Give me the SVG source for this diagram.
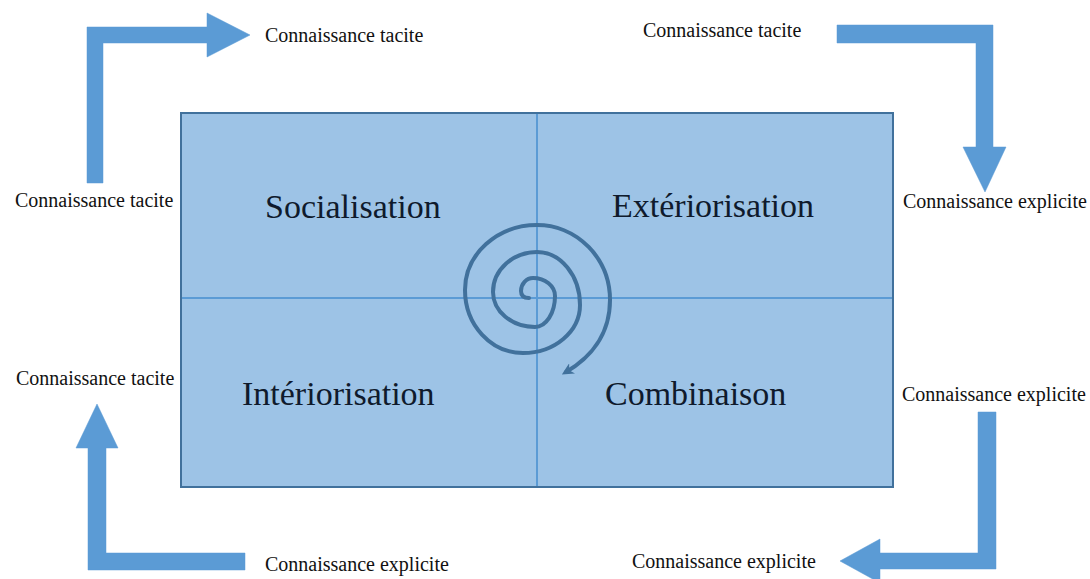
<svg xmlns="http://www.w3.org/2000/svg" width="1090" height="579" viewBox="0 0 1090 579">
  <style>
    .lbl { font-family: "Liberation Serif", "Times New Roman", serif; font-size: 20px; fill: #111; }
    .big { font-family: "Liberation Serif", "Times New Roman", serif; font-size: 34px; fill: #0f1a2c; }
    .arrow { fill: #5b9bd5; stroke: #5b9bd5; stroke-width: 0.5; }
    .divider { stroke: #5b9bd5; stroke-width: 2; fill: none; }
    .spiral { stroke: #41719c; stroke-width: 4; fill: none; stroke-linecap: round; }
  </style>
  <defs>
    <marker id="spiralHead" viewBox="0 0 10 10" refX="6" refY="5" markerWidth="3" markerHeight="3" orient="auto" markerUnits="strokeWidth">
      <path d="M0,0 L10,5 L0,10 L3,5 Z" fill="#41719c"/>
    </marker>
  </defs>
  <rect width="1090" height="579" fill="#ffffff"/>

  <g id="matrix">
    <rect x="181" y="113" width="712" height="374" fill="#9dc3e6" stroke="#41719c" stroke-width="2"/>
    <line class="divider" x1="537" y1="114" x2="537" y2="486"/>
    <line class="divider" x1="182" y1="298" x2="892" y2="298"/>
  </g>

  <g id="socialisation"><text class="big" x="265" y="218">Socialisation</text></g>
  <g id="exteriorisation"><text class="big" x="612" y="217">Extériorisation</text></g>
  <g id="interiorisation"><text class="big" x="242" y="405">Intériorisation</text></g>
  <g id="combinaison"><text class="big" x="605" y="405">Combinaison</text></g>

  <g id="spiral">
    <path class="spiral" marker-end="url(#spiralHead)" d="M 529 298 Q 521 298 521 291 A 12 13 0 0 1 533 278 A 22 18 0 0 1 555 296 A 20 31 0 0 1 535 327 A 42 35 0 0 1 493 292 A 44 40 0 0 1 537 252 A 43 53 0 0 1 580 305 A 57 48 0 0 1 523 353 A 58 63 0 0 1 465 290 A 72 65 0 0 1 537 225 A 73 75 0 0 1 610 300 C 610 335 590 358 566 372"/>
  </g>

  <g id="label-tl-top"><text class="lbl" x="265" y="42">Connaissance tacite</text></g>
  <g id="label-tr-top"><text class="lbl" x="643" y="37">Connaissance tacite</text></g>
  <g id="label-left-upper"><text class="lbl" x="15" y="207">Connaissance tacite</text></g>
  <g id="label-right-upper"><text class="lbl" x="903" y="208">Connaissance explicite</text></g>
  <g id="label-left-lower"><text class="lbl" x="16" y="385">Connaissance tacite</text></g>
  <g id="label-right-lower"><text class="lbl" x="902" y="401">Connaissance explicite</text></g>
  <g id="label-bl-bottom"><text class="lbl" x="265" y="571">Connaissance explicite</text></g>
  <g id="label-br-bottom"><text class="lbl" x="632" y="568">Connaissance explicite</text></g>

  <g id="connectors">
    <polygon class="arrow" points="87,183 87,27 207,27 207,13 250,35 207,57 207,43 103,43 103,183"/>
    <polygon class="arrow" points="837,25 993,25 993,147 1006,147 985,192 963,147 976,147 976,43 837,43"/>
    <polygon class="arrow" points="88,570 88,448 76,448 97,404 118,448 106,448 106,553 245,553 245,570"/>
    <polygon class="arrow" points="978,412 996,412 996,569 880,569 880,583 840,561 880,539 880,553 978,553"/>
  </g>
</svg>
